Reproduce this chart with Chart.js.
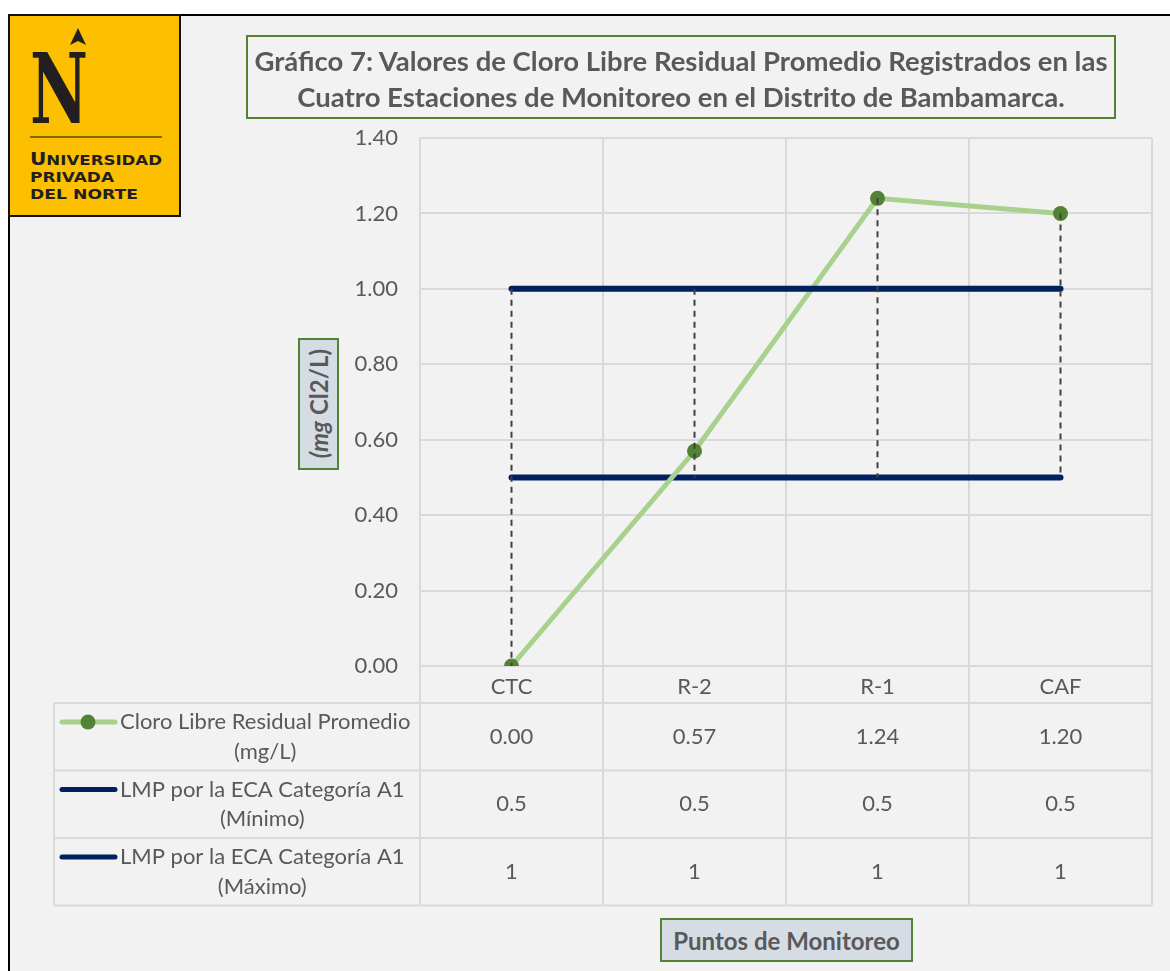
<!DOCTYPE html>
<html><head><meta charset="utf-8">
<script src="https://cdn.jsdelivr.net/npm/chart.js@4"></script>
<style>
body{margin:0;background:#fff;font-family:Lato,"Open Sans",sans-serif;color:#595959}
#frame{position:absolute;left:8px;top:14px;width:1162px;height:957px;background:#f2f2f2;border-top:2px solid #000;border-left:2px solid #000;box-sizing:border-box}
#c{position:absolute;left:0;top:0}
.box{position:absolute;border:2px solid #548235;box-sizing:border-box;font-weight:bold;color:#595959;display:flex;align-items:center;justify-content:center;text-align:center}
#titulo{left:246px;top:35px;width:870px;height:84px;font-size:27.5px;line-height:36px;padding-top:3px}
#ytit{left:298px;top:338px;width:41px;height:132px;background:#d6dce4;font-size:24px}
#ytit span{writing-mode:vertical-rl;transform:rotate(180deg);white-space:nowrap}
#xtit{left:660px;top:918px;width:253px;height:44px;background:#d6dce4;font-size:24px}
#logo{position:absolute;left:8px;top:14px;width:173px;height:203px;background:#fcc000;border:2px solid #111;box-sizing:border-box}
</style></head><body>
<div id="frame"></div>
<div id="logo"><svg width="169" height="199" viewBox="0 0 169 199">
<polygon points="68,12 60,29 68,25 76,29" fill="#231f20"/>
<text x="20" y="107" font-family="DejaVu Serif" font-weight="bold" font-size="98" fill="#231f20" textLength="58" lengthAdjust="spacingAndGlyphs">N</text>
<line x1="20" y1="121" x2="152" y2="121" stroke="#5a4a10" stroke-width="1.5"/>
<text x="20" y="149" font-family="DejaVu Sans" font-weight="bold" font-size="17" fill="#231f20" textLength="132" lengthAdjust="spacingAndGlyphs">U<tspan font-size="14">NIVERSIDAD</tspan></text>
<text x="20" y="166" font-family="DejaVu Sans" font-weight="bold" font-size="14" fill="#231f20" textLength="84" lengthAdjust="spacingAndGlyphs">PRIVADA</text>
<text x="20" y="183" font-family="DejaVu Sans" font-weight="bold" font-size="14" fill="#231f20" textLength="108" lengthAdjust="spacingAndGlyphs">DEL NORTE</text>
</svg></div>
<canvas id="c" width="1170" height="971"></canvas>
<div id="titulo" class="box">Gráfico 7: Valores de Cloro Libre Residual Promedio Registrados en las<br>Cuatro Estaciones de Monitoreo en el Distrito de Bambamarca.</div>
<div id="ytit" class="box"><span><i>(mg</i> Cl2/L)</span></div>
<div id="xtit" class="box">Puntos de Monitoreo</div>
<script>
const puntos=['CTC','R-2','R-1','CAF'];
const cloro=[0.00,0.57,1.24,1.20];
const lmpMin=[0.5,0.5,0.5,0.5];
const lmpMax=[1,1,1,1];
const nombres=[['Cloro Libre Residual Promedio','(mg/L)'],['LMP por la ECA Categoría A1','(Mínimo)'],['LMP por la ECA Categoría A1','(Máximo)']];
const fmt=[v=>v.toFixed(2),v=>String(v),v=>String(v)];
const F='Lato, "Open Sans", sans-serif',GRIS='#595959',GRID='#d9d9d9',FS=22;

// lineas max-min (estilo Excel) entre series
const altoBajo={id:'altoBajo',afterDatasetsDraw(ch){
  const ctx=ch.ctx,xs=ch.scales.x,ys=ch.scales.y;
  ctx.save();ctx.strokeStyle='#404040';ctx.lineWidth=2;ctx.setLineDash([6,5]);
  puntos.forEach((p,i)=>{
    const vals=ch.data.datasets.map(d=>d.data[i]);
    const x=xs.getPixelForValue(i);
    ctx.beginPath();ctx.moveTo(x,ys.getPixelForValue(Math.max(...vals)));ctx.lineTo(x,ys.getPixelForValue(Math.min(...vals)));ctx.stroke();
  });
  ctx.restore();
}};

// tabla de datos bajo el eje
const tabla={id:'tabla',afterDraw(ch){
  const ctx=ch.ctx,xs=ch.scales.x,ca=ch.chartArea;
  const top=xs.bottom,rowH=67.5,left=54,n=puntos.length,cw=(xs.right-xs.left)/n;
  const bottom=top+rowH*3;
  ctx.save();ctx.strokeStyle=GRID;ctx.lineWidth=2;
  for(let i=0;i<=n;i++){const x=xs.left+i*cw;ctx.beginPath();ctx.moveTo(x,ca.bottom);ctx.lineTo(x,bottom);ctx.stroke();}
  for(let r=0;r<=3;r++){const y=top+r*rowH;ctx.beginPath();ctx.moveTo(left,y);ctx.lineTo(xs.right,y);ctx.stroke();}
  ctx.beginPath();ctx.moveTo(left,top);ctx.lineTo(left,bottom);ctx.stroke();
  ctx.font=FS+'px '+F;ctx.fillStyle=GRIS;ctx.textBaseline='middle';
  ch.data.datasets.forEach((d,r)=>{
    const y0=top+r*rowH;
    // clave de leyenda
    ctx.save();ctx.lineCap='round';ctx.strokeStyle=d.borderColor;ctx.lineWidth=5;
    ctx.beginPath();ctx.moveTo(62,y0+19);ctx.lineTo(115,y0+19);ctx.stroke();
    if(d.pointRadius){ctx.fillStyle=d.pointBackgroundColor;ctx.beginPath();ctx.arc(88,y0+19,7.5,0,Math.PI*2);ctx.fill();}
    ctx.restore();
    const ls=nombres[r],w=Math.max(...ls.map(s=>ctx.measureText(s).width));
    ctx.textAlign='center';
    ls.forEach((s,k)=>ctx.fillText(s,120+w/2,y0+19+k*29.5));
    d.data.forEach((v,i)=>ctx.fillText(fmt[r](v),xs.getPixelForValue(i),y0+rowH/2));
  });
  ctx.restore();
}};

new Chart(document.getElementById('c'),{
  type:'line',
  data:{labels:puntos,datasets:[
    {label:'Cloro Libre Residual Promedio (mg/L)',data:cloro,borderColor:'#a9d18e',borderWidth:5,pointRadius:7.5,pointHoverRadius:7.5,pointBackgroundColor:'#548235',pointBorderWidth:0,order:1},
    {label:'LMP por la ECA Categoría A1 (Mínimo)',data:lmpMin,borderColor:'#002060',borderWidth:6,pointRadius:0,borderCapStyle:'round',order:2},
    {label:'LMP por la ECA Categoría A1 (Máximo)',data:lmpMax,borderColor:'#002060',borderWidth:6,pointRadius:0,borderCapStyle:'round',order:0}
  ]},
  options:{responsive:false,animation:false,devicePixelRatio:1,
    layout:{padding:{left:340,top:138,right:18,bottom:268}},
    plugins:{legend:{display:false},tooltip:{enabled:false}},
    scales:{
      y:{min:0,max:1.4,afterFit:s=>{s.width=80},border:{display:false},
        grid:{color:GRID,lineWidth:2,drawTicks:false},
        ticks:{stepSize:0.2,padding:22,color:GRIS,font:{family:F,size:FS},callback:v=>v.toFixed(2)}},
      x:{offset:true,afterFit:s=>{s.height=37},border:{display:false},
        grid:{offset:true,color:GRID,lineWidth:2,drawTicks:false},
        ticks:{padding:8,color:GRIS,font:{family:F,size:FS}}}
    }},
  plugins:[altoBajo,tabla]
});
</script>
</body></html>
